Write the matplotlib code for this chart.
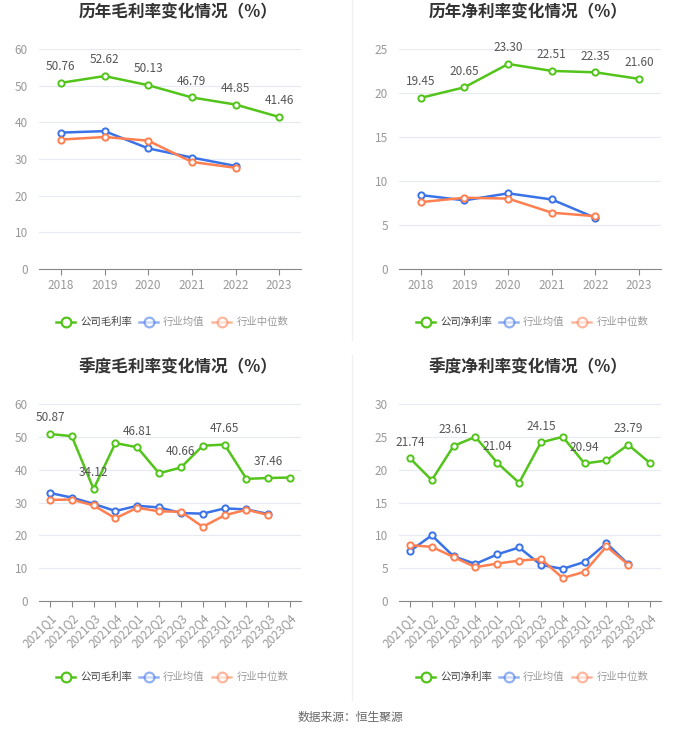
import matplotlib
matplotlib.use("Agg")
import matplotlib.pyplot as plt
from matplotlib.lines import Line2D

plt.rcParams['font.family'] = ['Noto Sans CJK SC', 'DejaVu Sans']

years = ['2018', '2019', '2020', '2021', '2022', '2023']
quarters = ['2021Q1', '2021Q2', '2021Q3', '2021Q4', '2022Q1', '2022Q2', '2022Q3', '2022Q4',
            '2023Q1', '2023Q2', '2023Q3', '2023Q4']

gross_company = [50.76, 52.62, 50.13, 46.79, 44.85, 41.46]
gross_mean = [37.2, 37.6, 32.9, 30.4, 28.1]
gross_median = [35.3, 36.0, 35.0, 29.2, 27.6]

net_company = [19.45, 20.65, 23.30, 22.51, 22.35, 21.60]
net_mean = [8.4, 7.8, 8.6, 7.9, 5.8]
net_median = [7.6, 8.1, 8.0, 6.4, 6.0]

q_gross_company = [50.87, 50.2, 34.12, 48.1, 46.81, 38.9, 40.66, 47.3, 47.65, 37.2, 37.46, 37.6]
q_gross_mean = [32.9, 31.5, 29.6, 27.4, 29.0, 28.5, 26.8, 26.6, 28.2, 27.9, 26.5]
q_gross_median = [30.8, 30.9, 29.1, 25.2, 28.4, 27.3, 27.2, 22.6, 26.1, 27.8, 26.2]

q_net_company = [21.74, 18.4, 23.61, 25.0, 21.04, 18.0, 24.15, 25.0, 20.94, 21.4, 23.79, 21.0]
q_net_mean = [7.6, 10.0, 6.8, 5.65, 7.1, 8.15, 5.5, 4.9, 5.95, 8.8, 5.6]
q_net_median = [8.5, 8.25, 6.7, 5.15, 5.7, 6.15, 6.4, 3.5, 4.45, 8.3, 5.55]

titles = ['历年毛利率变化情况（%）', '历年净利率变化情况（%）', '季度毛利率变化情况（%）', '季度净利率变化情况（%）']
legend_gross = ['公司毛利率', '行业均值', '行业中位数']
legend_net = ['公司净利率', '行业均值', '行业中位数']
source = '数据来源：恒生聚源'

GREEN = '#52c41a'
BLUE = '#3a72e8'
ORANGE = '#ff7f50'

W, H = 700, 734
fig = plt.figure(figsize=(7, 7.34), dpi=100)

def fx(px):
    return px / W

def fy(py):
    return 1 - py / H

def panel(x0, x1, ytop, ybot, cats, comp, mean, med, ymax, ystep, labels_every, rotate):
    ax = fig.add_axes([fx(x0), fy(ybot), fx(x1 - x0), fy(ytop) - fy(ybot)])
    n = len(cats)
    xs = list(range(n))
    ax.set_xlim(-0.5, n - 0.5)
    ax.set_ylim(0, ymax)
    ax.set_yticks(range(0, ymax + 1, ystep))
    ax.grid(axis='y', color='#e6eaf2', linewidth=0.8)
    ax.set_axisbelow(True)
    for s in ['top', 'right', 'left']:
        ax.spines[s].set_visible(False)
    ax.spines['bottom'].set_color('#888888')
    ax.tick_params(axis='y', length=0, labelsize=8.5, labelcolor='#999999', pad=8)
    ax.tick_params(axis='x', length=4, color='#888888', labelsize=8.5, labelcolor='#999999')
    ax.set_xticks(xs)
    if rotate:
        ax.set_xticklabels(cats, rotation=45, ha='right', rotation_mode='anchor')
    else:
        ax.set_xticklabels(cats)
    mk = dict(marker='o', markersize=4.5, markerfacecolor='white', markeredgewidth=1.4)
    ax.plot(range(len(mean)), mean, color=BLUE, linewidth=1.8, markeredgecolor=BLUE, zorder=3, **mk)
    ax.plot(range(len(med)), med, color=ORANGE, linewidth=1.8, markeredgecolor=ORANGE, zorder=3, **mk)
    ax.plot(xs, comp, color=GREEN, linewidth=1.8, markeredgecolor=GREEN, zorder=4, **mk)
    for i, v in enumerate(comp):
        if i % labels_every == 0:
            ax.annotate(f'{v:.2f}', (i, v), xytext=(0, 7), textcoords='offset points',
                        ha='center', va='bottom', fontsize=8.5, color='#555555', zorder=5)
    return ax

panel(39, 301, 49, 269, years, gross_company, gross_mean, gross_median, 60, 10, 1, False)
panel(399, 661, 49, 269, years, net_company, net_mean, net_median, 25, 5, 1, False)
panel(39, 301, 404, 601, quarters, q_gross_company, q_gross_mean, q_gross_median, 60, 10, 2, True)
panel(399, 661, 404, 601, quarters, q_net_company, q_net_mean, q_net_median, 30, 5, 2, True)

# titles
for (cx, cy), t in zip([(178, 12), (528, 12), (178, 367), (528, 367)], titles):
    fig.text(fx(cx), fy(cy), t, ha='center', va='center', fontsize=12, fontweight='bold', color='#333333')

# legends
def legend(dx, cy, names):
    items = [(56, 80, GREEN, 1.0, '#444444'), (139, 163, BLUE, 0.55, '#999999'), (212, 237, ORANGE, 0.55, '#999999')]
    for (ix, tx, c, a, tc), name in zip(items, names):
        x0 = ix + dx
        fig.add_artist(Line2D([fx(x0), fx(x0 + 19)], [fy(cy), fy(cy)], color=c, alpha=a, linewidth=1.8,
                              transform=fig.transFigure))
        fig.add_artist(Line2D([fx(x0 + 9.5)], [fy(cy)], marker='o', markersize=7, markerfacecolor='white',
                              markeredgecolor=c, markeredgewidth=1.6, alpha=a, transform=fig.transFigure))
        fig.text(fx(tx + dx), fy(cy), name, ha='left', va='center', fontsize=7.5, color=tc)

legend(0, 322, legend_gross)
legend(360, 322, legend_net)
legend(0, 677, legend_gross)
legend(360, 677, legend_net)

# dividers
fig.add_artist(Line2D([fx(352), fx(352)], [fy(0), fy(340)], color='#f0f0f0', linewidth=1, transform=fig.transFigure))
fig.add_artist(Line2D([fx(352), fx(352)], [fy(355), fy(700)], color='#f0f0f0', linewidth=1, transform=fig.transFigure))

fig.text(0.5, fy(717), source, ha='center', va='center', fontsize=8.5, color='#666666')

fig.savefig('out.png', dpi=100, facecolor='white')
